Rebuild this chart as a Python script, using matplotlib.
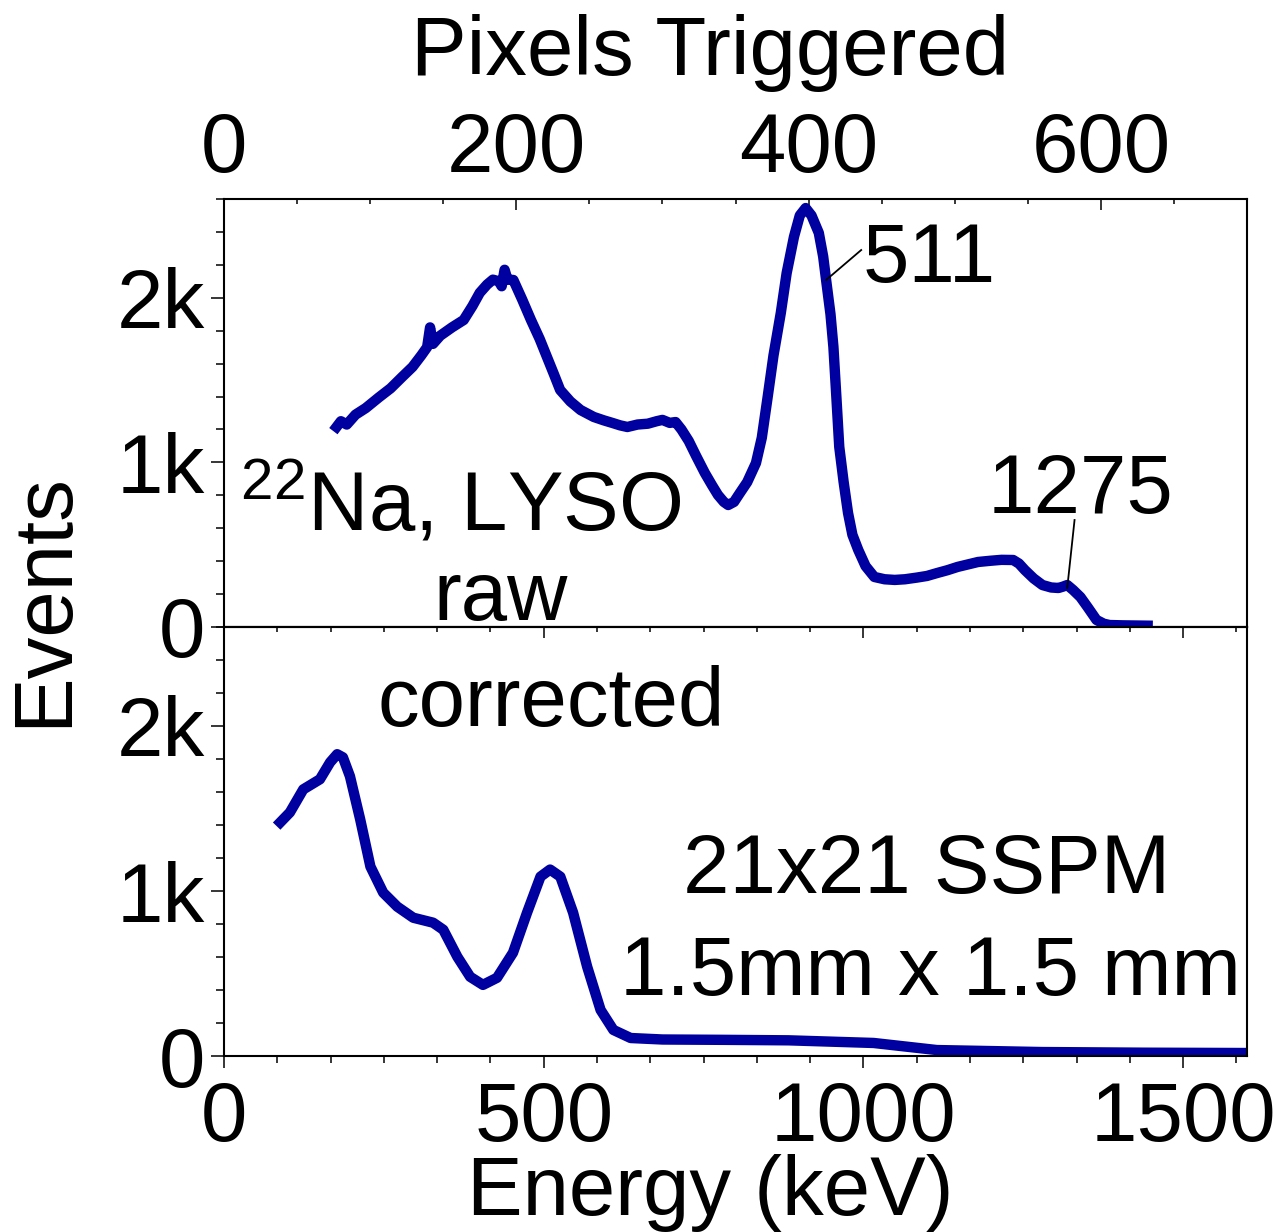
import matplotlib
matplotlib.use("Agg")
import matplotlib.pyplot as plt
from matplotlib.ticker import MultipleLocator, FixedLocator, FuncFormatter

plt.rcParams["font.family"] = ["Liberation Sans", "DejaVu Sans"]
plt.rcParams["mathtext.default"] = "regular"

# Raw 22Na spectrum in LYSO: number of SSPM pixels triggered vs events
raw_pixels = [77, 80, 84, 90, 97, 106, 114, 122, 129, 135, 139, 141, 143, 148, 156,
              164, 170, 175, 180, 184, 188, 190, 192, 194, 198, 204, 210, 216, 221,
              226, 230, 237, 244, 253, 260, 266, 271, 276, 283, 290, 296, 300, 305,
              309, 313, 318, 323, 329, 334, 338, 342, 345, 349, 353, 358, 364, 368,
              372, 376, 381, 385, 390, 394, 398, 402, 407, 410, 412, 415, 417, 419,
              421, 424, 427, 430, 434, 439, 445, 452, 459, 466, 474, 481, 488, 495,
              502, 509, 516, 524, 532, 540, 544, 548, 554, 560, 566, 571, 574, 577,
              581, 586, 591, 597, 602, 606, 615, 632]
raw_events = [1215, 1250, 1230, 1290, 1330, 1395, 1450, 1520, 1580, 1650, 1700, 1820,
              1720, 1770, 1820, 1865, 1950, 2030, 2080, 2110, 2100, 2070, 2170, 2110,
              2108, 1990, 1866, 1750, 1640, 1530, 1440, 1370, 1318, 1276, 1255, 1239,
              1225, 1215, 1230, 1235, 1250, 1258, 1240, 1245, 1200, 1130, 1040, 936,
              860, 802, 760, 741, 760, 814, 880, 996, 1150, 1397, 1650, 1908, 2150,
              2370, 2500, 2545, 2500, 2394, 2250, 2108, 1900, 1701, 1400, 1094, 880,
              693, 560, 468, 370, 304, 290, 286, 290, 300, 310, 328, 345, 365, 380,
              395, 402, 408, 407, 385, 346, 295, 255, 240, 237, 245, 255, 225, 182,
              120, 43, 20, 12, 10, 8]

# Corrected spectrum: energy (keV) vs events
corr_energy = [88, 103, 124, 150, 166, 177, 186, 197, 213, 229, 249, 271, 296, 327,
               343, 365, 385, 405, 427, 452, 474, 495, 510, 526, 546, 568, 589, 609,
               636, 686, 780, 883, 1016, 1115, 1279, 1440, 1602]
corr_events = [1416, 1476, 1616, 1677, 1780, 1829, 1810, 1695, 1434, 1148, 990, 905,
               838, 808, 765, 601, 480, 431, 474, 626, 869, 1087, 1130, 1087, 869,
               541, 279, 158, 109, 100, 98, 95, 79, 36, 24, 20, 18]

ytick_vals = [0, 1000, 2000]
ytick_text = ["0", "1k", "2k"]

LINE = "#0000A0"
FS = 60
W, H = 1279, 1232

fig = plt.figure(figsize=(W / 100, H / 100), dpi=100)


def box(x0, y0, x1, y1):
    return [x0 / W, 1 - y1 / H, (x1 - x0) / W, (y1 - y0) / H]


ax1 = fig.add_axes(box(224, 199, 1247, 627))
ax2 = fig.add_axes(box(224, 627, 1247, 1056))

ax1.plot(raw_pixels, raw_events, color=LINE, lw=7.5, solid_joinstyle="round")
ax2.plot(corr_energy, corr_events, color=LINE, lw=7.5, solid_joinstyle="round")

ylabels = FuncFormatter(lambda v, p: dict(zip(ytick_vals, ytick_text)).get(int(round(v)), ""))
for ax in (ax1, ax2):
    ax.set_ylim(0, 2600)
    ax.yaxis.set_major_locator(FixedLocator(ytick_vals))
    ax.yaxis.set_major_formatter(ylabels)
    ax.yaxis.set_minor_locator(MultipleLocator(200))
    ax.tick_params(axis="y", which="both", direction="out", left=True, right=False,
                   labelsize=FS, pad=4.5, width=1.1)
    ax.tick_params(axis="y", which="major", length=9.4)
    ax.tick_params(axis="y", which="minor", length=5.8)
    for s in ax.spines.values():
        s.set_linewidth(1.5)

# top panel: pixel scale on top
ax1.set_xlim(0, 700)
ax1.xaxis.set_major_locator(MultipleLocator(200))
ax1.xaxis.set_minor_locator(MultipleLocator(50))
ax1.tick_params(axis="x", which="both", direction="in", top=True, bottom=False,
                labeltop=True, labelbottom=False, labelsize=FS, pad=7, width=1.1)
ax1.tick_params(axis="x", which="major", length=8)
ax1.tick_params(axis="x", which="minor", length=3.6)

# bottom panel: energy scale
ax2.set_xlim(0, 1600)
ax2.xaxis.set_major_locator(MultipleLocator(500))
ax2.xaxis.set_minor_locator(MultipleLocator(500 / 6))
ax2.tick_params(axis="x", which="both", direction="out", top=False, bottom=True,
                labelsize=FS, pad=8.6, width=1.1)
ax2.tick_params(axis="x", which="major", length=8.6)
ax2.tick_params(axis="x", which="minor", length=5)

sec = ax2.secondary_xaxis("top")
sec.xaxis.set_major_locator(MultipleLocator(500))
sec.xaxis.set_minor_locator(MultipleLocator(500 / 6))
sec.tick_params(axis="x", which="both", direction="in", labeltop=False, width=1.1)
sec.tick_params(axis="x", which="major", length=8)
sec.tick_params(axis="x", which="minor", length=3.6)
sec.spines["top"].set_linewidth(1.5)

# annotations, top panel
ax1.text(437, 2096, "511", fontsize=FS, ha="left", va="baseline")
ax1.plot([412, 436], [2108, 2290], color="black", lw=1.3)
ax1.text(586, 693, "1275", fontsize=FS, ha="center", va="baseline")
ax1.plot([582, 577], [650, 237], color="black", lw=1.3)
ax1.text(11, 589, r"$^{22}$Na, LYSO", fontsize=FS, ha="left", va="baseline")
ax1.text(189, 42, "raw", fontsize=FS, ha="center", va="baseline")

# annotations, bottom panel
ax2.text(512, 1999, "corrected", fontsize=FS, ha="center", va="baseline")
ax2.text(1099, 990, "21x21 SSPM", fontsize=FS, ha="center", va="baseline")
ax2.text(1105, 371, "1.5mm x 1.5 mm", fontsize=FS, ha="center", va="baseline")

# axis titles
fig.text(710 / W, 1 - 75 / H, "Pixels Triggered", fontsize=FS, ha="center", va="baseline")
fig.text(710 / W, 1 - 1215 / H, "Energy (keV)", fontsize=FS, ha="center", va="baseline")
fig.text(44 / W, 1 - 600 / H, "Events", fontsize=FS, ha="center", va="center", rotation=90)

fig.savefig("out.png", dpi=100)
